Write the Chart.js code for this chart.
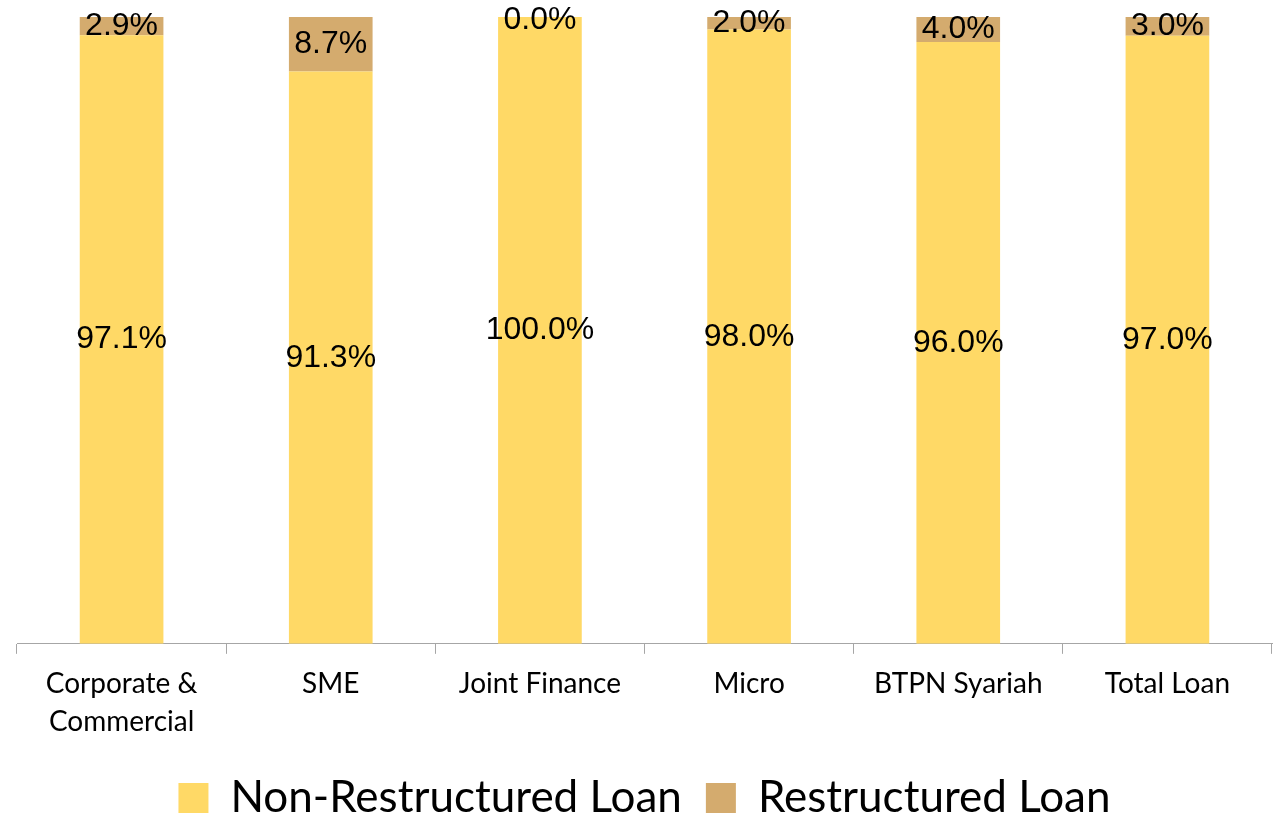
<!DOCTYPE html>
<html>
<head>
<meta charset="utf-8">
<script src="https://cdn.jsdelivr.net/npm/chart.js@4.4.0/dist/chart.umd.min.js"></script>
<style>
  html, body { margin: 0; padding: 0; background: #ffffff; overflow: hidden; }
  #wrap { width: 1274px; height: 830px; position: relative; }
</style>
</head>
<body>
<div id="wrap"><canvas id="loan_chart"></canvas></div>
<script>
// categories and values
const categories = [['Corporate &', 'Commercial'], 'SME', 'Joint Finance', 'Micro', 'BTPN Syariah', 'Total Loan'];
const nonRestructured = [97.1, 91.3, 100.0, 98.0, 96.0, 97.0];
const restructured = [2.9, 8.7, 0.0, 2.0, 4.0, 3.0];

// draws value labels centred in each segment (no datalabels plugin offline)
const segmentLabels = {
    id: 'segmentLabels',
    afterDatasetsDraw(chart) {
        const ctx = chart.ctx;
        ctx.save();
        ctx.font = "32px 'Liberation Sans', Arial, sans-serif";
        ctx.fillStyle = '#000000';
        ctx.textAlign = 'center';
        ctx.textBaseline = 'middle';
        chart.data.datasets.forEach((ds, i) => {
            const meta = chart.getDatasetMeta(i);
            meta.data.forEach((bar, j) => {
                const v = ds.data[j];
                let y = (bar.y + bar.base) / 2;
                if (v === 0) y = bar.y + 3;
                ctx.fillText(v.toFixed(1) + '%', bar.x, y);
            });
        });
        ctx.restore();
    }
};

const ctx1 = document.getElementById('loan_chart').getContext('2d');
const loan_chart = new Chart(ctx1, {
    type: 'bar',
    data: {
        labels: categories,
        datasets: [{
            label: 'Non-Restructured Loan',
            data: nonRestructured,
            backgroundColor: '#FFD966',
            borderWidth: 0,
        }, {
            label: 'Restructured Loan',
            data: restructured,
            backgroundColor: '#D4AB6E',
            borderWidth: 0,
        }]
    },
    options: {
        responsive: true,
        maintainAspectRatio: false,
        animation: false,
        categoryPercentage: 1.0,
        barPercentage: 0.4,
        layout: {
            padding: { top: 17, left: 17, right: 2, bottom: 0 }
        },
        scales: {
            x: {
                stacked: true,
                grid: {
                    offset: true,
                    drawOnChartArea: false,
                    color: '#A6A6A6',
                    tickLength: 10,
                    lineWidth: 1,
                },
                border: { color: '#A6A6A6', width: 1 },
                ticks: {
                    color: '#000000',
                    padding: 11,
                    maxRotation: 0,
                    font: { family: "Lato, 'Open Sans', sans-serif", size: 28, lineHeight: 1.36 }
                }
            },
            y: {
                stacked: true,
                display: false,
                min: 0,
                max: 100,
            }
        },
        plugins: {
            legend: {
                position: 'bottom',
                labels: {
                    color: '#000000',
                    boxWidth: 30,
                    boxHeight: 30,
                    padding: 24,
                    font: { family: "Lato, 'Open Sans', sans-serif", size: 44 }
                }
            },
            tooltip: { enabled: false }
        }
    },
    plugins: [segmentLabels]
});
</script>
</body>
</html>
